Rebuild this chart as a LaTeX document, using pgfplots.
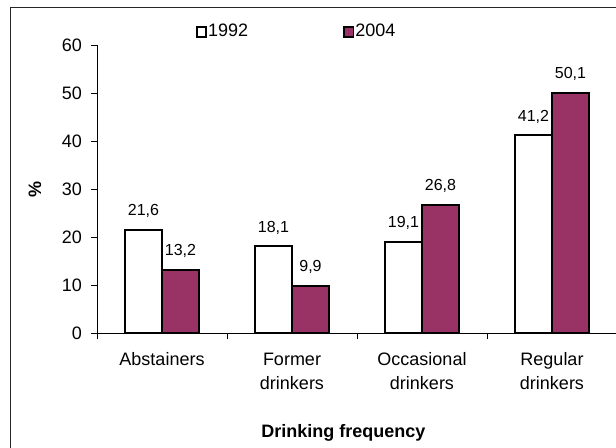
\documentclass[border=0pt]{standalone}
\usepackage{fontspec}
\setmainfont{Liberation Sans}
\usepackage{pgfplots}
\pgfplotsset{compat=1.18}
\definecolor{plum}{RGB}{153,51,102}
\begin{document}
\begin{tikzpicture}
\useasboundingbox (0pt,0pt) rectangle (308pt,-224pt);
\draw[line width=0.5pt, black!85] (5.35pt,-4pt) rectangle (320pt,-240pt);
\begin{axis}[
  at={(48.5pt,-166.75pt)}, anchor=south west,
  scale only axis, width=260pt, height=144.25pt,
  ybar=0pt, bar width=18.5pt,
  xmin=-0.5, xmax=3.5, ymin=0, ymax=60,
  axis x line*=bottom, axis y line*=left,
  axis line style={line width=0.5pt, black},
  xtick={-0.5,0.5,1.5,2.5,3.5},
  xticklabels={},
  extra x ticks={0,1,2,3},
  extra x tick labels={Abstainers,{Former\\drinkers},{Occasional\\drinkers},{Regular\\drinkers}},
  extra x tick style={major tick style={draw=none}, xticklabel style={font=\fontsize{9}{12}\selectfont, align=center, inner sep=0pt, anchor=north, yshift=-6.4pt}},
  ytick={0,10,20,30,40,50,60},
  tick align=outside,
  major tick length=3pt,
  tick style={line width=0.5pt, black},
  /pgf/number format/assume math mode=true,
  yticklabel style={font=\fontsize{9}{11}\selectfont, inner sep=0pt, xshift=-4.3pt},
  every axis x label/.style={at={(axis description cs:0.474,-0.3588)}, anchor=base, font=\fontsize{9}{11}\selectfont\bfseries},
  every axis y label/.style={at={(axis description cs:0,0.5)}, xshift=-31pt, rotate=90, anchor=center, font=\fontsize{9}{11}\selectfont\bfseries},
  xlabel={Drinking frequency},
  ylabel={\%},
  nodes near coords={\pgfmathprintnumber[use comma,fixed,fixed zerofill,precision=1,assume math mode=true]{\pgfplotspointmeta}},
  every node near coord/.append style={font=\fontsize{8}{10}\selectfont, anchor=base, inner sep=0pt, yshift=7.2pt, black},
  legend columns=2,
  legend style={at={(axis description cs:0.19,1.045)}, anchor=west, draw=none, fill=none, inner sep=0pt,
    font=\fontsize{9}{11}\selectfont, nodes={inner sep=0.6pt},
    /tikz/every even column/.append style={column sep=47pt}},
  legend image code/.code={\draw[#1, line width=0.8pt] (0pt,-2.4pt) rectangle (4.6pt,2.4pt);},
]
\addplot[draw=black, fill=white, line width=1pt] coordinates {(0,21.6) (1,18.1) (2,19.1) (3,41.2)};
\addplot[draw=black, fill=plum, line width=1pt] coordinates {(0,13.2) (1,9.9) (2,26.8) (3,50.1)};
\legend{1992,2004}
\end{axis}
\end{tikzpicture}
\end{document}
